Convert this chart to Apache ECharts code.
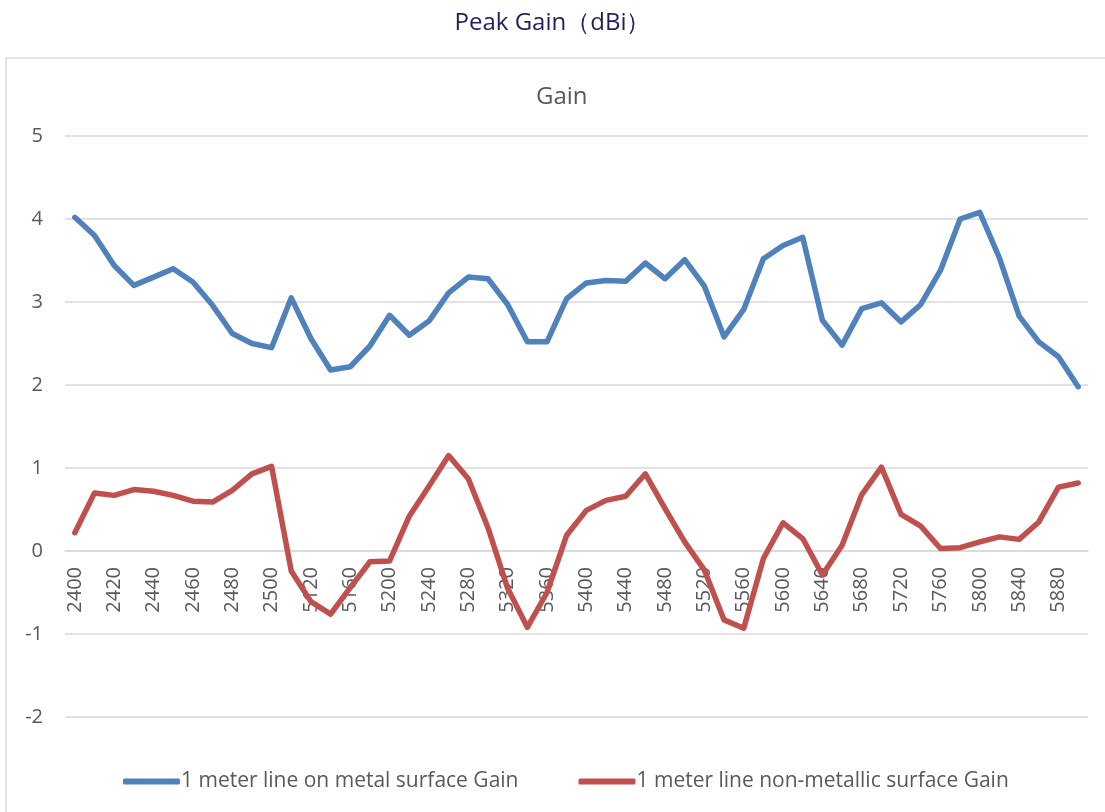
<!DOCTYPE html>
<html>
<head>
<meta charset="utf-8">
<script src="https://cdn.jsdelivr.net/npm/echarts@6/dist/echarts.min.js"></script>
<style>
html,body{margin:0;padding:0;background:#fff;}
#chart{width:1105px;height:812px;}
</style>
</head>
<body>
<div id="chart"></div>
<script>
const categories = [
  '2400','2410','2420','2430','2440','2450','2460','2470','2480','2490','2500',
  '5100','5120','5140','5160','5180','5200','5220','5240','5260','5280','5300',
  '5320','5340','5360','5380','5400','5420','5440','5460','5480','5500','5520',
  '5540','5560','5580','5600','5620','5640','5660','5680','5700','5720','5740',
  '5760','5780','5800','5820','5840','5860','5880','5900'
];
const metalGain = [
  4.02,3.80,3.44,3.20,3.30,3.40,3.24,2.96,2.62,2.50,2.45,
  3.05,2.56,2.18,2.22,2.47,2.84,2.60,2.77,3.11,3.30,3.28,
  2.97,2.52,2.52,3.04,3.23,3.26,3.25,3.47,3.28,3.51,3.19,
  2.58,2.91,3.52,3.68,3.78,2.78,2.48,2.92,2.99,2.76,2.97,
  3.38,4.00,4.08,3.53,2.83,2.52,2.34,1.98
];
const nonMetalGain = [
  0.22,0.70,0.67,0.74,0.72,0.67,0.60,0.59,0.73,0.93,1.02,
  -0.24,-0.61,-0.76,-0.44,-0.13,-0.12,0.42,0.78,1.15,0.87,0.28,
  -0.45,-0.92,-0.50,0.19,0.49,0.61,0.66,0.93,0.51,0.11,-0.23,
  -0.83,-0.93,-0.09,0.34,0.15,-0.29,0.07,0.68,1.01,0.44,0.30,
  0.03,0.04,0.11,0.17,0.14,0.35,0.77,0.82
];
const seriesNames = ['1 meter line on metal surface Gain','1 meter line non-metallic surface Gain'];
const mainTitle = 'Peak Gain（dBi）';
const subTitle = 'Gain';

const FONT = 'Open Sans';
const Y_MIN = -2, Y_MAX = 5;
const GRID_TOP = 136, GRID_BOTTOM = 95, H = 812;
// put the category axis (and its labels) at value 0, as in the original
const plotH = H - GRID_TOP - GRID_BOTTOM;
const zeroOffset = -plotH * (0 - Y_MIN) / (Y_MAX - Y_MIN);

const chart = echarts.init(document.getElementById('chart'));
chart.setOption({
  animation: false,
  backgroundColor: '#ffffff',
  graphic: [{
    type: 'rect', silent: true, z: -1,
    shape: {x: 6, y: 58, width: 1200, height: 900},
    style: {fill: 'none', stroke: '#d9d9d9', lineWidth: 1.5}
  }],
  title: [
    {text: mainTitle, left: 'center', top: 6,
     textStyle: {fontFamily: FONT, fontSize: 24, fontWeight: 'normal', color: '#1f1f5f'}},
    {text: subTitle, left: 531, top: 80,
     textStyle: {fontFamily: FONT, fontSize: 24, fontWeight: 'normal', color: '#595959'}}
  ],
  grid: {left: 65, right: 17, top: GRID_TOP, bottom: GRID_BOTTOM, containLabel: false},
  xAxis: {
    type: 'category', data: categories, boundaryGap: true,
    offset: zeroOffset,
    axisLine: {show: true, onZero: false, lineStyle: {color: '#d9d9d9', width: 1.5}},
    axisTick: {show: false},
    axisLabel: {rotate: 90, interval: 1, fontFamily: FONT, fontSize: 20, color: '#595959', margin: 16}
  },
  yAxis: {
    type: 'value', min: Y_MIN, max: Y_MAX, interval: 1,
    axisLine: {show: false}, axisTick: {show: false},
    splitLine: {lineStyle: {color: '#d9d9d9', width: 1.5}},
    axisLabel: {fontFamily: FONT, fontSize: 20, color: '#595959', margin: 22}
  },
  legend: {
    left: 118, top: 766, icon: 'roundRect', itemWidth: 57, itemHeight: 6, itemGap: 60,
    textStyle: {fontFamily: FONT, fontSize: 21, color: '#595959', padding: [0,0,0,-4]},
    data: seriesNames
  },
  series: [
    {name: seriesNames[0], type: 'line', data: metalGain, showSymbol: false, symbol: 'none',
     lineStyle: {width: 5.5, color: '#4f81bd', cap: 'round', join: 'round'}, itemStyle: {color: '#4f81bd'}},
    {name: seriesNames[1], type: 'line', data: nonMetalGain, showSymbol: false, symbol: 'none',
     lineStyle: {width: 5.5, color: '#c0504d', cap: 'round', join: 'round'}, itemStyle: {color: '#c0504d'}}
  ]
});
</script>
</body>
</html>
